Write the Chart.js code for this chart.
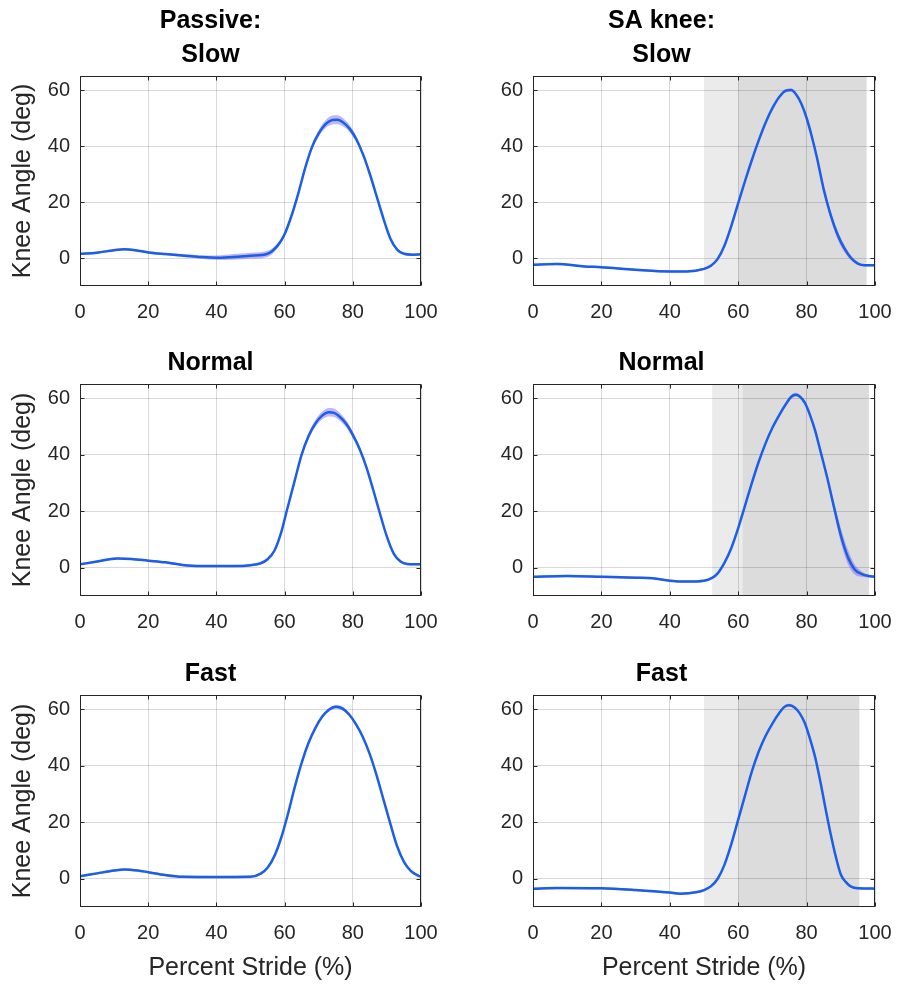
<!DOCTYPE html>
<html>
<head>
<meta charset="utf-8">
<script src="https://cdn.jsdelivr.net/npm/chart.js@4.4.1/dist/chart.umd.min.js"></script>
<style>
  body { margin: 0; background: #fff; width: 897px; height: 985px; position: relative; overflow: hidden; }
  canvas { position: absolute; }
</style>
</head>
<body>
<canvas id="c0"></canvas>
<canvas id="c1"></canvas>
<canvas id="c2"></canvas>
<canvas id="c3"></canvas>
<canvas id="c4"></canvas>
<canvas id="c5"></canvas>
<script>
// tick labels
const xTicks = [0, 20, 40, 60, 80, 100];
const yTicks = [0, 20, 40, 60];

// Passive: slow
const psX    = [0, 5, 10, 13, 17, 20, 25, 30, 35, 40, 45, 50, 55, 58, 60, 62, 64, 66, 68, 70, 72, 74, 75.5, 77, 79, 81, 83, 85, 87, 89, 91, 93, 95, 97.5, 100];
const psMean = [1.5, 1.9, 2.8, 3.1, 2.6, 2.0, 1.4, 0.9, 0.4, 0.1, 0.4, 0.8, 1.5, 4.5, 8.5, 15, 23, 32, 39.5, 44.5, 47.8, 49.3, 49.4, 48.6, 46.3, 42.5, 37, 30, 22, 14, 7, 3, 1.5, 1.2, 1.3];
const psSD   = [0.4, 0.4, 0.4, 0.4, 0.4, 0.4, 0.4, 0.5, 0.6, 0.8, 1.0, 1.1, 1.1, 0.9, 0.8, 0.7, 0.7, 0.8, 1.0, 1.2, 1.4, 1.6, 1.6, 1.5, 1.3, 1.1, 0.9, 0.8, 0.7, 0.6, 0.5, 0.4, 0.4, 0.4, 0.4];

// Passive: normal
const pnX    = [0, 5, 11, 15, 20, 25, 30, 35, 40, 45, 50, 53, 55, 57, 59, 60.6, 63, 65, 67, 69, 71, 73, 74.5, 76, 78, 80, 82, 84, 86, 88, 90, 92, 94, 96, 98, 100];
const pnMean = [1.2, 2.2, 3.3, 3.1, 2.5, 1.9, 1.0, 0.6, 0.6, 0.6, 0.9, 1.6, 3, 6, 12.5, 20, 31, 40, 46.5, 51, 53.8, 55, 54.8, 53.6, 51, 47, 42, 35.5, 27.5, 19, 11, 5, 2.2, 1.3, 1.2, 1.2];
const pnSD   = [0.4, 0.4, 0.4, 0.4, 0.4, 0.4, 0.4, 0.4, 0.4, 0.4, 0.4, 0.4, 0.5, 0.6, 0.7, 0.8, 0.9, 1.0, 1.1, 1.3, 1.4, 1.5, 1.5, 1.4, 1.3, 1.1, 0.9, 0.8, 0.7, 0.6, 0.5, 0.4, 0.4, 0.4, 0.4, 0.4];

// Passive: fast
const pfX    = [0, 5, 10, 13, 17, 20, 25, 30, 40, 50, 53, 55, 57, 59, 61, 63, 65, 67, 69, 71, 73, 75, 77, 79, 81, 83, 85, 87, 89, 91, 93, 95, 97, 99, 100];
const pfMean = [0.9, 1.9, 2.9, 3.3, 2.9, 2.3, 1.3, 0.7, 0.6, 0.7, 1.8, 3.9, 8, 14.5, 23, 32.5, 41, 48, 53.3, 57.3, 59.8, 60.8, 60.2, 58, 54.5, 50, 44, 36.5, 28, 19.5, 11.5, 6, 2.8, 1.2, 0.7];
const pfSD   = [0.4, 0.4, 0.4, 0.4, 0.4, 0.4, 0.4, 0.4, 0.4, 0.4, 0.4, 0.4, 0.4, 0.4, 0.4, 0.4, 0.4, 0.4, 0.4, 0.5, 0.6, 0.7, 0.7, 0.6, 0.5, 0.4, 0.4, 0.4, 0.4, 0.4, 0.4, 0.4, 0.4, 0.4, 0.4];

// SA knee: slow
const ssX    = [0, 7, 15, 20, 30, 40, 45, 50, 52, 54, 56, 58, 60, 62, 64, 66, 68, 70, 72, 74, 75.5, 77, 78.5, 80, 81.5, 83, 85, 87, 89, 91, 93, 95, 97, 100];
const ssMean = [-2.4, -2.1, -3.0, -3.3, -4.2, -4.8, -4.8, -3.9, -2.8, -0.3, 4.5, 11.5, 19.6, 27.5, 35, 42, 48.3, 53.5, 57.5, 59.8, 60, 58.3, 55, 50, 43.5, 36, 24.5, 15.5, 8.5, 3.5, 0, -2, -2.6, -2.6];
const ssSD   = [0.4, 0.4, 0.4, 0.4, 0.4, 0.4, 0.4, 0.4, 0.4, 0.4, 0.4, 0.4, 0.4, 0.4, 0.4, 0.4, 0.4, 0.4, 0.4, 0.4, 0.5, 0.4, 0.4, 0.5, 0.6, 0.8, 1.1, 1.4, 1.5, 1.3, 0.8, 0.5, 0.4, 0.4];
const ssLight = [50, 97.5];
const ssDark  = [60, 97.5];

// SA knee: normal
const snX    = [0, 10, 20, 30, 35, 40, 45, 50, 52.5, 54, 56, 58, 60, 62, 64, 66, 68, 70, 72, 74, 75.5, 76.8, 78, 79.5, 81, 82.5, 84, 86, 88, 90, 92, 94, 96, 98, 100];
const snMean = [-3.2, -2.9, -3.2, -3.5, -3.7, -4.6, -4.9, -4.6, -3.5, -2, 1.8, 7, 14, 22, 30, 37.5, 44, 49.5, 54, 58, 60.5, 61.2, 60.6, 58.3, 54, 48.5, 41.5, 32, 21.5, 11.5, 4, -0.5, -2.2, -2.9, -3.2];
const snSD   = [0.4, 0.4, 0.4, 0.4, 0.4, 0.4, 0.4, 0.4, 0.4, 0.4, 0.4, 0.4, 0.4, 0.4, 0.4, 0.4, 0.4, 0.4, 0.4, 0.4, 0.6, 0.7, 0.6, 0.5, 0.4, 0.5, 0.7, 1.1, 1.8, 2.6, 2.6, 1.8, 1.0, 0.5, 0.4];
const snLight = [52.4, 98.2];
const snDark  = [61.3, 98.2];

// SA knee: fast
const sfX    = [0, 7, 20, 30, 40, 43, 48, 50, 52, 54, 56, 58, 60, 62, 64, 66, 68, 70, 72, 73.5, 75, 76.5, 78, 79.5, 81, 82.5, 84, 85.5, 87, 88.5, 90, 91.5, 93, 95, 100];
const sfMean = [-3.5, -3.3, -3.4, -4, -4.9, -5.3, -4.7, -4, -2.7, 0, 5, 12.3, 20.9, 29.5, 38, 45, 50.5, 54.9, 58.6, 60.8, 61.4, 60.6, 58.5, 55, 49.5, 43, 34.5, 25, 16, 8, 1.5, -1.2, -2.8, -3.4, -3.5];
const sfSD   = [0.4, 0.4, 0.4, 0.4, 0.4, 0.4, 0.4, 0.4, 0.4, 0.4, 0.4, 0.4, 0.4, 0.4, 0.4, 0.4, 0.4, 0.4, 0.4, 0.5, 0.5, 0.5, 0.4, 0.4, 0.4, 0.4, 0.4, 0.4, 0.4, 0.4, 0.4, 0.4, 0.4, 0.4, 0.4];
const sfLight = [50, 95.4];
const sfDark  = [60, 95.4];

const FONT = '"Liberation Sans", Arial, Helvetica, sans-serif';
const INK = '#262626';
const LINE = 'rgb(28, 94, 232)';
const BAND = 'rgba(112, 96, 240, 0.45)';

// placement of the 6 panels on the page
const cols = [
  { left: 0,   width: 448, axisW: 80, padR: 27 },
  { left: 448, width: 449, axisW: 85, padR: 22 }
];
const rows = [
  { top: 0,   height: 330, tPad: { top: 4,  bottom: 4 }, axisH: 44 },
  { top: 330, height: 310, tPad: { top: 16, bottom: 4 }, axisH: 44 },
  { top: 640, height: 345, tPad: { top: 17, bottom: 4 }, axisH: 78 }
];

const panels = [
  { row: 0, col: 0, title: ['Passive:', 'Slow'], x: psX, mean: psMean, sd: psSD },
  { row: 0, col: 1, title: ['SA knee:', 'Slow'], x: ssX, mean: ssMean, sd: ssSD, light: ssLight, dark: ssDark },
  { row: 1, col: 0, title: 'Normal', x: pnX, mean: pnMean, sd: pnSD },
  { row: 1, col: 1, title: 'Normal', x: snX, mean: snMean, sd: snSD, light: snLight, dark: snDark },
  { row: 2, col: 0, title: 'Fast', x: pfX, mean: pfMean, sd: pfSD },
  { row: 2, col: 1, title: 'Fast', x: sfX, mean: sfMean, sd: sfSD, light: sfLight, dark: sfDark }
];

// gray phase shading, drawn under the grid
const shading = {
  id: 'shading',
  beforeDraw(chart, args, opts) {
    if (!opts.light) return;
    const { ctx, chartArea: a, scales: { x } } = chart;
    ctx.save();
    ctx.fillStyle = '#ebebeb';
    let x0 = x.getPixelForValue(opts.light[0]), x1 = x.getPixelForValue(opts.light[1]);
    ctx.fillRect(x0, a.top, x1 - x0, a.bottom - a.top);
    ctx.fillStyle = '#dcdcdc';
    x0 = x.getPixelForValue(opts.dark[0]); x1 = x.getPixelForValue(opts.dark[1]);
    ctx.fillRect(x0, a.top, x1 - x0, a.bottom - a.top);
    ctx.restore();
  }
};

// matlab style box with inward ticks
const box = {
  id: 'box',
  afterDatasetsDraw(chart) {
    const { ctx, chartArea: a, scales: { x, y } } = chart;
    const L = Math.round(a.left) + 0.5, R = Math.round(a.right) - 0.5;
    const T = Math.round(a.top) + 0.5, B = Math.round(a.bottom) - 0.5;
    ctx.save();
    ctx.strokeStyle = INK;
    ctx.lineWidth = 1;
    ctx.strokeRect(L, T, R - L, B - T);
    ctx.beginPath();
    xTicks.forEach(v => {
      const px = Math.round(x.getPixelForValue(v)) + 0.5;
      ctx.moveTo(px, B); ctx.lineTo(px, B - 4);
      ctx.moveTo(px, T); ctx.lineTo(px, T + 4);
    });
    yTicks.forEach(v => {
      const py = Math.round(y.getPixelForValue(v)) + 0.5;
      ctx.moveTo(L, py); ctx.lineTo(L + 4, py);
      ctx.moveTo(R, py); ctx.lineTo(R - 4, py);
    });
    ctx.stroke();
    ctx.restore();
  }
};

panels.forEach((p, i) => {
  const c = cols[p.col], r = rows[p.row];
  const cv = document.getElementById('c' + i);
  cv.width = c.width; cv.height = r.height;
  cv.style.left = c.left + 'px'; cv.style.top = r.top + 'px';

  const mean = p.x.map((v, k) => ({ x: v, y: p.mean[k] }));
  const lo = p.x.map((v, k) => ({ x: v, y: p.mean[k] - p.sd[k] }));
  const hi = p.x.map((v, k) => ({ x: v, y: p.mean[k] + p.sd[k] }));

  new Chart(cv, {
    type: 'line',
    data: {
      datasets: [
        { data: mean, borderColor: LINE, borderWidth: 2.5, pointRadius: 0, fill: false, cubicInterpolationMode: 'monotone' },
        { data: lo, borderColor: 'transparent', borderWidth: 0, pointRadius: 0, fill: false, cubicInterpolationMode: 'monotone' },
        { data: hi, borderColor: 'transparent', borderWidth: 0, pointRadius: 0, fill: '-1', backgroundColor: BAND, cubicInterpolationMode: 'monotone' }
      ]
    },
    options: {
      responsive: false,
      animation: false,
      devicePixelRatio: 1,
      layout: { padding: { left: 0, right: c.padR, top: 0, bottom: 0 } },
      plugins: {
        legend: { display: false },
        tooltip: { enabled: false },
        title: {
          display: true, text: p.title, color: '#000',
          font: { family: FONT, size: 25, weight: 'bold', lineHeight: '34px' },
          padding: r.tPad
        },
        shading: { light: p.light, dark: p.dark }
      },
      scales: {
        x: {
          type: 'linear', min: 0, max: 100,
          afterBuildTicks: s => { s.ticks = xTicks.map(v => ({ value: v })); },
          afterFit: s => { s.height = r.axisH; s.paddingLeft = 0; s.paddingRight = 0; },
          grid: { color: 'rgba(0,0,0,0.15)', drawTicks: false },
          border: { display: false },
          ticks: { autoSkip: false, maxRotation: 0, padding: 14, color: INK, font: { family: FONT, size: 20 } },
          title: {
            display: p.row === 2, text: 'Percent Stride (%)', color: INK,
            font: { family: FONT, size: 25 }, padding: { top: 0, bottom: 2 }
          }
        },
        y: {
          type: 'linear', min: -10, max: 65,
          afterBuildTicks: s => { s.ticks = yTicks.map(v => ({ value: v })); },
          afterFit: s => { s.width = c.axisW; s.paddingTop = 0; s.paddingBottom = 0; },
          grid: { color: 'rgba(0,0,0,0.15)', drawTicks: false },
          border: { display: false },
          ticks: { autoSkip: false, padding: 10, color: INK, font: { family: FONT, size: 20 } },
          title: {
            display: p.col === 0, text: 'Knee Angle (deg)', color: INK,
            font: { family: FONT, size: 25 }, padding: { top: 8, bottom: 0 }
          }
        }
      }
    },
    plugins: [shading, box]
  });
});
</script>
</body>
</html>
